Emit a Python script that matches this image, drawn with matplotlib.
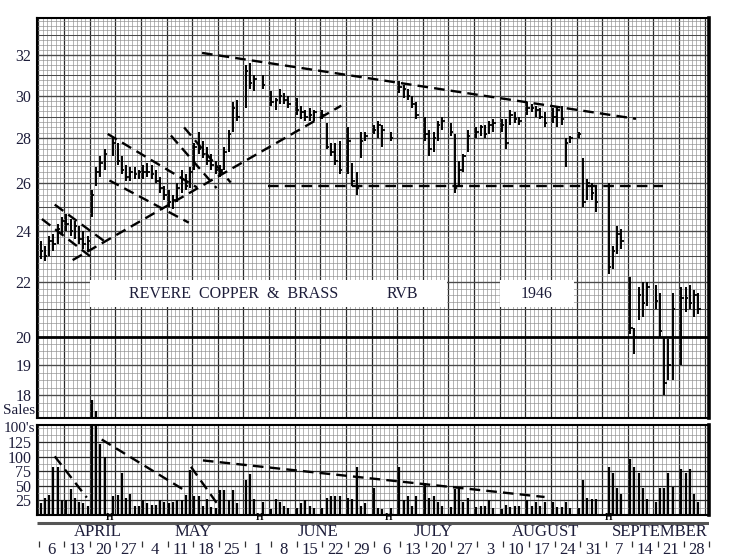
import matplotlib
matplotlib.use("Agg")
import matplotlib.pyplot as plt
import matplotlib.transforms as mtransforms
from matplotlib.patches import Rectangle
from matplotlib.ticker import FixedLocator, NullFormatter
import numpy as np
import pandas as pd

# ---------------- data ----------------
start_date = "1946-04-01"
end_date = "1946-09-28"
holidays = ["1946-04-19", "1946-05-30", "1946-07-04", "1946-09-02"]
summer_saturdays_closed_from = "1946-05-25"

# one value per trading day, week by week
high = [
    23.6, 23.4, 23.8, 23.9, 24.3, 24.6,
    24.7, 24.5, 24.4, 24.2, 24.0, 23.8,
    25.7, 26.7, 27.2, 27.5, 28.0,
    27.8, 27.2, 26.8, 26.7, 26.7, 26.6,
    26.8, 26.9, 26.8, 26.6, 26.3, 25.9,
    25.7, 25.5, 26.0, 26.6, 26.4, 26.7,
    27.8, 28.3, 27.9, 27.6, 27.3, 27.0,
    26.8, 27.6, 28.4, 29.7, 29.8,
    31.5, 31.6, 31.0, 31.0,
    30.2, 29.9, 30.3, 30.1, 30.0,
    29.9, 29.5, 29.3, 29.4, 29.3,
    29.3, 28.7, 27.8, 27.8, 27.9,
    28.5, 26.9, 26.5, 28.3, 28.3,
    28.6, 28.8, 28.6, 28.3,
    30.7, 30.5, 30.3, 30.0, 29.7,
    29.0, 28.4, 28.3, 28.8, 29.0,
    28.7, 28.2, 27.0, 27.3, 28.4,
    28.5, 28.6, 28.6, 28.8, 28.9,
    28.9, 28.9, 29.3, 29.2, 29.0,
    29.7, 29.6, 29.5, 29.4, 29.2,
    29.4, 29.5, 29.5, 28.0, 28.1,
    28.3, 27.1, 26.2, 26.0, 25.9,
    26.0, 23.4, 24.2, 24.1,
    22.2, 20.3, 21.8, 22.0, 22.0,
    21.9, 21.6, 20.0, 19.9, 21.6,
    21.8, 21.8, 21.9, 21.7, 21.6,
]
low = [
    22.9, 22.8, 23.0, 23.2, 23.5, 23.9,
    24.0, 23.8, 23.7, 23.5, 23.3, 23.2,
    24.6, 25.9, 26.3, 26.6, 27.2,
    26.8, 26.4, 26.1, 26.1, 26.2, 26.2,
    26.2, 26.3, 26.2, 26.0, 25.6, 25.3,
    25.0, 24.9, 25.2, 25.6, 25.7, 25.8,
    26.6, 27.3, 27.1, 26.8, 26.6, 26.4,
    26.3, 26.6, 27.4, 28.3, 28.8,
    29.4, 30.3, 30.2, 30.3,
    29.5, 29.3, 29.6, 29.6, 29.4,
    29.1, 28.9, 28.8, 28.8, 28.8,
    28.9, 27.5, 27.2, 26.8, 26.4,
    26.4, 25.9, 25.5, 27.1, 27.9,
    28.2, 28.0, 27.6, 27.9,
    30.1, 29.9, 29.8, 29.4, 28.9,
    27.9, 27.2, 27.4, 27.9, 28.4,
    28.1, 25.6, 25.9, 26.5, 27.4,
    28.0, 28.1, 28.0, 28.2, 28.3,
    28.3, 27.5, 28.6, 28.7, 28.6,
    29.1, 29.2, 29.0, 28.9, 28.5,
    28.7, 28.5, 28.6, 26.7, 27.8,
    28.0, 25.0, 25.3, 25.3, 24.8,
    22.3, 22.5, 23.1, 23.3,
    20.1, 19.4, 20.6, 20.7, 21.1,
    21.0, 20.0, 18.0, 18.5, 18.5,
    19.0, 20.9, 21.0, 20.7, 20.8,
]
close = [
    23.2, 23.0, 23.6, 23.5, 24.1, 24.4,
    24.3, 24.0, 24.2, 23.7, 23.5, 23.6,
    25.5, 26.5, 26.9, 27.3, 27.8,
    27.0, 26.6, 26.3, 26.5, 26.4, 26.5,
    26.5, 26.5, 26.4, 26.1, 25.8, 25.5,
    25.2, 25.3, 25.8, 26.2, 25.9, 26.5,
    27.6, 27.5, 27.3, 27.0, 26.8, 26.6,
    26.6, 27.4, 28.2, 29.4, 29.0,
    31.2, 30.6, 30.8, 30.5,
    29.7, 29.8, 30.0, 29.8, 29.6,
    29.3, 29.2, 29.0, 29.1, 29.2,
    29.1, 27.6, 27.4, 27.0, 26.6,
    27.9, 26.1, 25.8, 27.9, 28.1,
    28.4, 28.6, 28.4, 28.0,
    30.4, 30.3, 30.0, 29.6, 29.1,
    28.2, 27.5, 28.0, 28.6, 28.8,
    28.3, 25.8, 26.6, 27.2, 28.1,
    28.3, 28.5, 28.2, 28.6, 28.7,
    28.6, 27.8, 29.1, 28.9, 28.8,
    29.4, 29.4, 29.3, 29.0, 28.7,
    29.0, 29.3, 28.9, 27.8, 28.0,
    28.2, 25.2, 26.0, 25.6, 25.2,
    22.6, 23.2, 23.9, 23.6,
    20.3, 20.0, 21.5, 21.2, 21.8,
    21.3, 20.2, 18.4, 19.0, 21.0,
    21.4, 21.4, 21.2, 21.5, 21.0,
]
# sales in hundreds of shares
volume = [
    21, 30, 35, 83, 82, 25,
    25, 45, 30, 22, 20, 15,
    186, 167, 122, 100, 32,
    35, 72, 30, 37, 15, 15,
    25, 20, 18, 17, 25, 22,
    21, 22, 25, 25, 35, 78,
    32, 32, 15, 27, 14, 12,
    43, 43, 25, 43, 20,
    60, 70, 27, 22,
    10, 27, 22, 15, 12,
    12, 20, 25, 15, 12,
    12, 30, 32, 32, 32,
    30, 28, 83, 15, 20,
    47, 12, 10, 12,
    83, 25, 33, 15, 33,
    55, 30, 32, 22, 15,
    14, 45, 45, 22, 30,
    14, 15, 15, 25, 12,
    10, 18, 14, 15, 15,
    25, 15, 22, 15, 22,
    22, 14, 14, 22, 12,
    12, 60, 30, 27, 27,
    83, 73, 47, 37,
    97, 83, 72, 47, 28,
    22, 47, 47, 73, 48,
    80, 73, 80, 37, 22,
]

price_ticks = [18, 19, 20, 22, 24, 26, 28, 30, 32]
volume_ticks = [25, 50, 75, 100, 125]
month_names = ["APRIL", "MAY", "JUNE", "JULY", "AUGUST", "SEPTEMBER"]

# trend lines drawn on the chart: (day slot start, end), (value start, end)
price_trendlines = [
    ((37.8, 139.4), (32.1, 28.9)),
    ((53.3, 145.7), (25.87, 25.87)),
    ((7.5, 70.4), (22.85, 29.52)),
    ((3.3, 15.7), (25.1, 23.5)),
    ((0.3, 11.9), (24.5, 22.96)),
    ((15.7, 36.6), (28.2, 25.83)),
    ((16.1, 34.7), (26.13, 24.35)),
    ((30.5, 41.2), (28.13, 25.8)),
    ((33.6, 44.5), (28.5, 26.04)),
]
volume_trendlines = [
    ((3.3, 10.8), (101, 30)),
    ((14.3, 33.6), (130, 43)),
    ((35.2, 41.2), (83, 21)),
    ((38.0, 118.0), (94, 31)),
]

# ---------------- calendar -> day slots (6 slots per week) ----------------
days = pd.date_range(start_date, end_date, freq="D")
days = days[days.weekday < 6]
closed = days.isin(pd.to_datetime(holidays)) | (
    (days.weekday == 5) & (days >= pd.Timestamp(summer_saturdays_closed_from))
)
trade_days = days[~closed]
t0 = pd.Timestamp(start_date)
slot = np.array(((trade_days - t0).days // 7) * 6 + trade_days.weekday)
holiday_slot = [((pd.Timestamp(h) - t0).days // 7) * 6 + pd.Timestamp(h).weekday() for h in holidays]
n_weeks = int(np.ceil(len(days) / 6))
week_ends = [t0 + pd.Timedelta(days=5 + 7 * k) for k in range(n_weeks)]

high = np.array(high)
low = np.array(low)
close = np.array(close)
volume = np.array(volume, dtype=float)

# ---------------- layout ----------------
W, H = 737, 560
INK = "#1d1d3a"
FONT = "Liberation Serif"
plt.rcParams["font.family"] = [FONT, "DejaVu Serif"]


def frac(x0, y0, x1, y1):
    return [x0 / W, 1 - y1 / H, (x1 - x0) / W, (y1 - y0) / H]


fig = plt.figure(figsize=(W / 100, H / 100), dpi=100, facecolor="white")
ax = fig.add_axes(frac(37, 18, 709, 418))
vax = fig.add_axes(frac(37, 425, 709, 515))
dax = fig.add_axes(frac(37, 515, 709, 560))

xlim = (-0.85, 155.43)
vol_top = 155

for a in (ax, vax):
    a.set_xlim(*xlim)
    a.set_xticks(np.arange(-0.5, 157, 6))
    a.set_xticks(np.arange(-0.5, 157, 1), minor=True)
    a.xaxis.set_major_formatter(NullFormatter())
    a.tick_params(axis="x", which="both", length=0)
    a.set_axisbelow(True)
    a.grid(which="minor", color="#8c8c8c", lw=0.45)
    a.grid(which="major", color="#2a2a2a", lw=0.9)
    for side in ("top", "left", "bottom"):
        a.spines[side].set_linewidth(1.5)
    a.spines["right"].set_linewidth(2.6)

# price panel on the chart paper's compressed scale
ax.set_yscale("function", functions=(lambda p: np.power(np.clip(p, 1e-6, None), 0.25),
                                     lambda y: np.power(y, 4)))
ax.set_ylim(17.27, 33.9)
ax.yaxis.set_major_locator(FixedLocator(price_ticks))
ax.yaxis.set_minor_locator(FixedLocator(np.arange(17.25, 34.0, 0.25)))
ax.set_yticklabels([str(p) for p in price_ticks])
ax.yaxis.set_minor_formatter(NullFormatter())
ax.tick_params(axis="y", which="both", length=0, pad=4, labelsize=11.5, labelcolor=INK)
for p in range(18, 34):
    ax.axhline(p, color="#4a4a4a", lw=0.75, zorder=0.6)
ax.axhline(20, color="black", lw=2.0, zorder=0.7)

ax.vlines(slot, low, high, color="black", lw=1.4, zorder=3)
ax.hlines(close, slot, slot + 0.6, color="black", lw=1.3, zorder=3)

for (x0, x1), (y0, y1) in price_trendlines:
    ax.plot([x0, x1], [y0, y1], color="black", lw=1.7, ls=(0, (4.5, 2.6)), zorder=3)

# label boxes
ax.add_patch(Rectangle((11.5, 21.07), 83.7, 1.01, facecolor="white", edgecolor="none", zorder=2))
ax.add_patch(Rectangle((107.5, 21.07), 17.5, 1.01, facecolor="white", edgecolor="none", zorder=2))
ax.text(45.2, 21.55, "REVERE  COPPER  &  BRASS", ha="center", va="center",
        fontsize=11.5, color=INK, zorder=4)
ax.text(84.8, 21.55, "RVB", ha="center", va="center", fontsize=11.5, color=INK, zorder=4)
ax.text(116.1, 21.55, "1946", ha="center", va="center", fontsize=11.5, color=INK, zorder=4)

# volume panel
vax.set_ylim(0, vol_top)
vax.set_yticks(volume_ticks)
vax.set_yticks(np.arange(0, vol_top, 12.5), minor=True)
vax.yaxis.set_minor_formatter(NullFormatter())
vax.tick_params(axis="y", which="both", length=0, pad=4, labelsize=11.5, labelcolor=INK)
vax.vlines(slot, 0, np.minimum(volume, vol_top), color="black", lw=1.6, zorder=3)
for (x0, x1), (y0, y1) in volume_trendlines:
    vax.plot([x0, x1], [y0, y1], color="black", lw=1.7, ls=(0, (4.5, 2.6)), zorder=3)

# sales too big for the panel run on up into the price panel
vol_px = vax.get_position().height * H / vol_top
price_px = ax.get_position().height * H
over = volume > vol_top
blend = mtransforms.blended_transform_factory(ax.transData, ax.transAxes)
ax.vlines(slot[over], 0, (volume[over] - vol_top) * vol_px / price_px,
          color="black", lw=1.6, transform=blend, zorder=3)

fig.text(35 / W, 1 - 417 / H, "Sales", ha="right", va="bottom", fontsize=11, color=INK)
fig.text(35 / W, 1 - 428 / H, "100's", ha="right", va="center", fontsize=11, color=INK)

# date strip
dax.set_xlim(*xlim)
dax.set_ylim(45, 0)
dax.axis("off")
dax.hlines(8, xlim[0], xlim[1], color="#555555", lw=2.2)
for s in holiday_slot:
    dax.text(s, 7.5, "H", ha="center", va="bottom", fontsize=7, fontweight="bold", color="black")
month_slot = [13.3, 35.4, 64.5, 91.2, 117.5, 144.0]
for name, s in zip(month_names, month_slot):
    dax.text(s, 17, name, ha="center", va="center", fontsize=12, color=INK)
for k, d in enumerate(week_ends):
    dax.vlines(6 * k - 0.5, 25.5, 32, color="#333333", lw=0.9)
    dax.text(6 * k + 2.5, 35.5, str(d.day), ha="center", va="center", fontsize=12, color=INK)
dax.vlines(6 * n_weeks - 0.5, 25.5, 32, color="#333333", lw=0.9, clip_on=False)

fig.savefig("out.png", dpi=100, facecolor="white")
